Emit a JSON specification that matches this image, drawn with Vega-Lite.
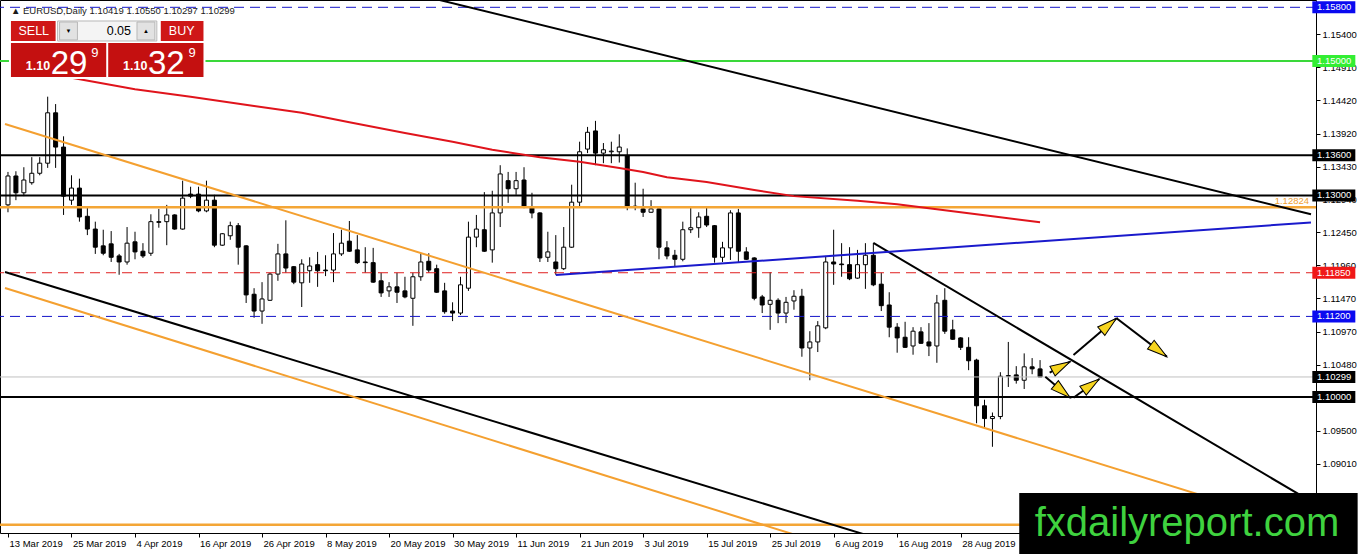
{
  "$schema": "https://vega.github.io/schema/vega-lite/v6.json",
  "width": 1316,
  "height": 533,
  "autosize": "none",
  "padding": {"left": 0, "top": 0, "right": 46, "bottom": 21},
  "background": "white",
  "config": {
    "view": {"stroke": "#000000", "strokeWidth": 1},
    "axis": {"labelFont": "Liberation Sans", "labelFontSize": 9.5, "labelColor": "#000000", "tickColor": "#000000", "tickSize": 4, "domain": false, "grid": false},
    "text": {"font": "Liberation Sans"}
  },
  "resolve": {"axis": {"x": "independent", "y": "independent"}},
  "datasets": {
    "candles": [
      {"i":0,"o":1.1286,"h":1.1335,"l":1.1275,"c":1.1329},
      {"i":1,"o":1.1329,"h":1.1336,"l":1.1293,"c":1.1304},
      {"i":2,"o":1.1304,"h":1.1342,"l":1.1299,"c":1.1323},
      {"i":3,"o":1.1319,"h":1.1357,"l":1.1316,"c":1.1333},
      {"i":4,"o":1.1333,"h":1.1357,"l":1.1330,"c":1.1348},
      {"i":5,"o":1.1348,"h":1.1447,"l":1.1341,"c":1.1423},
      {"i":6,"o":1.1423,"h":1.1436,"l":1.1341,"c":1.1372},
      {"i":7,"o":1.1372,"h":1.1388,"l":1.1271,"c":1.1299},
      {"i":8,"o":1.1293,"h":1.1330,"l":1.1286,"c":1.1311},
      {"i":9,"o":1.1311,"h":1.1325,"l":1.1261,"c":1.1268},
      {"i":10,"o":1.1269,"h":1.1283,"l":1.1241,"c":1.1250},
      {"i":11,"o":1.1250,"h":1.1261,"l":1.1213,"c":1.1223},
      {"i":12,"o":1.1225,"h":1.1249,"l":1.1211,"c":1.1214},
      {"i":13,"o":1.1228,"h":1.1247,"l":1.1201,"c":1.1208},
      {"i":14,"o":1.1210,"h":1.1213,"l":1.1182,"c":1.1201},
      {"i":15,"o":1.1201,"h":1.1253,"l":1.1197,"c":1.1229},
      {"i":16,"o":1.1231,"h":1.1246,"l":1.1205,"c":1.1216},
      {"i":17,"o":1.1217,"h":1.1229,"l":1.1207,"c":1.1210},
      {"i":18,"o":1.1214,"h":1.1272,"l":1.1210,"c":1.1261},
      {"i":19,"o":1.1261,"h":1.1280,"l":1.1252,"c":1.1260},
      {"i":20,"o":1.1261,"h":1.1286,"l":1.1226,"c":1.1271},
      {"i":21,"o":1.1271,"h":1.1272,"l":1.1249,"c":1.1250},
      {"i":22,"o":1.1250,"h":1.1322,"l":1.1249,"c":1.1296},
      {"i":23,"o":1.1302,"h":1.1313,"l":1.1296,"c":1.1299},
      {"i":24,"o":1.1302,"h":1.1313,"l":1.1275,"c":1.1277},
      {"i":25,"o":1.1277,"h":1.1322,"l":1.1275,"c":1.1293},
      {"i":26,"o":1.1293,"h":1.1301,"l":1.1223,"c":1.1226},
      {"i":27,"o":1.1226,"h":1.1244,"l":1.1225,"c":1.1243},
      {"i":28,"o":1.1240,"h":1.1261,"l":1.1234,"c":1.1255},
      {"i":29,"o":1.1255,"h":1.1259,"l":1.1197,"c":1.1223},
      {"i":30,"o":1.1225,"h":1.1226,"l":1.1140,"c":1.1152},
      {"i":31,"o":1.1153,"h":1.1162,"l":1.1118,"c":1.1128},
      {"i":32,"o":1.1128,"h":1.1171,"l":1.1109,"c":1.1146},
      {"i":33,"o":1.1144,"h":1.1185,"l":1.1143,"c":1.1183},
      {"i":34,"o":1.1183,"h":1.1228,"l":1.1173,"c":1.1213},
      {"i":35,"o":1.1213,"h":1.1263,"l":1.1185,"c":1.1192},
      {"i":36,"o":1.1194,"h":1.1195,"l":1.1168,"c":1.1171},
      {"i":37,"o":1.1170,"h":1.1205,"l":1.1134,"c":1.1198},
      {"i":38,"o":1.1188,"h":1.1208,"l":1.1170,"c":1.1195},
      {"i":39,"o":1.1197,"h":1.1216,"l":1.1164,"c":1.1188},
      {"i":40,"o":1.1189,"h":1.1211,"l":1.1180,"c":1.1188},
      {"i":41,"o":1.1189,"h":1.1244,"l":1.1171,"c":1.1213},
      {"i":42,"o":1.1213,"h":1.1249,"l":1.1210,"c":1.1229},
      {"i":43,"o":1.1232,"h":1.1262,"l":1.1216,"c":1.1217},
      {"i":44,"o":1.1219,"h":1.1241,"l":1.1198,"c":1.1200},
      {"i":45,"o":1.1201,"h":1.1223,"l":1.1185,"c":1.1200},
      {"i":46,"o":1.1200,"h":1.1222,"l":1.1170,"c":1.1171},
      {"i":47,"o":1.1173,"h":1.1185,"l":1.1149,"c":1.1155},
      {"i":48,"o":1.1158,"h":1.1171,"l":1.1149,"c":1.1164},
      {"i":49,"o":1.1164,"h":1.1185,"l":1.1140,"c":1.1156},
      {"i":50,"o":1.1158,"h":1.1179,"l":1.1147,"c":1.1149},
      {"i":51,"o":1.1147,"h":1.1185,"l":1.1106,"c":1.1179},
      {"i":52,"o":1.1179,"h":1.1214,"l":1.1173,"c":1.1201},
      {"i":53,"o":1.1202,"h":1.1214,"l":1.1185,"c":1.1189},
      {"i":54,"o":1.1191,"h":1.1197,"l":1.1155,"c":1.1156},
      {"i":55,"o":1.1158,"h":1.1170,"l":1.1124,"c":1.1127},
      {"i":56,"o":1.1128,"h":1.1141,"l":1.1113,"c":1.1125},
      {"i":57,"o":1.1125,"h":1.1179,"l":1.1122,"c":1.1167},
      {"i":58,"o":1.1162,"h":1.1261,"l":1.1158,"c":1.1238},
      {"i":59,"o":1.1238,"h":1.1271,"l":1.1223,"c":1.1250},
      {"i":60,"o":1.1249,"h":1.1305,"l":1.1216,"c":1.1217},
      {"i":61,"o":1.1219,"h":1.1307,"l":1.1200,"c":1.1274},
      {"i":62,"o":1.1274,"h":1.1345,"l":1.1253,"c":1.1332},
      {"i":63,"o":1.1322,"h":1.1335,"l":1.1289,"c":1.1310},
      {"i":64,"o":1.1310,"h":1.1335,"l":1.1301,"c":1.1322},
      {"i":65,"o":1.1323,"h":1.1342,"l":1.1281,"c":1.1283},
      {"i":66,"o":1.1283,"h":1.1304,"l":1.1266,"c":1.1274},
      {"i":67,"o":1.1274,"h":1.1275,"l":1.1201,"c":1.1207},
      {"i":68,"o":1.1208,"h":1.1246,"l":1.1201,"c":1.1216},
      {"i":69,"o":1.1201,"h":1.1241,"l":1.1182,"c":1.1191},
      {"i":70,"o":1.1191,"h":1.1253,"l":1.1189,"c":1.1223},
      {"i":71,"o":1.1223,"h":1.1316,"l":1.1222,"c":1.1290},
      {"i":72,"o":1.1290,"h":1.1380,"l":1.1283,"c":1.1365},
      {"i":73,"o":1.1369,"h":1.1402,"l":1.1363,"c":1.1394},
      {"i":74,"o":1.1396,"h":1.1411,"l":1.1345,"c":1.1363},
      {"i":75,"o":1.1363,"h":1.1378,"l":1.1348,"c":1.1368},
      {"i":76,"o":1.1365,"h":1.1380,"l":1.1348,"c":1.1366},
      {"i":77,"o":1.1365,"h":1.1391,"l":1.1349,"c":1.1372},
      {"i":78,"o":1.1359,"h":1.1370,"l":1.1278,"c":1.1283},
      {"i":79,"o":1.1283,"h":1.1319,"l":1.1278,"c":1.1284},
      {"i":80,"o":1.1280,"h":1.1310,"l":1.1268,"c":1.1275},
      {"i":81,"o":1.1275,"h":1.1293,"l":1.1274,"c":1.1280},
      {"i":82,"o":1.1280,"h":1.1281,"l":1.1205,"c":1.1223},
      {"i":83,"o":1.1222,"h":1.1232,"l":1.1205,"c":1.1210},
      {"i":84,"o":1.1211,"h":1.1219,"l":1.1194,"c":1.1205},
      {"i":85,"o":1.1205,"h":1.1261,"l":1.1202,"c":1.1249},
      {"i":86,"o":1.1249,"h":1.1283,"l":1.1244,"c":1.1252},
      {"i":87,"o":1.1252,"h":1.1275,"l":1.1237,"c":1.1268},
      {"i":88,"o":1.1269,"h":1.1283,"l":1.1253,"c":1.1256},
      {"i":89,"o":1.1255,"h":1.1256,"l":1.1200,"c":1.1208},
      {"i":90,"o":1.1208,"h":1.1231,"l":1.1201,"c":1.1222},
      {"i":91,"o":1.1222,"h":1.1278,"l":1.1204,"c":1.1274},
      {"i":92,"o":1.1274,"h":1.1280,"l":1.1201,"c":1.1217},
      {"i":93,"o":1.1216,"h":1.1223,"l":1.1204,"c":1.1205},
      {"i":94,"o":1.1207,"h":1.1208,"l":1.1144,"c":1.1147},
      {"i":95,"o":1.1149,"h":1.1152,"l":1.1125,"c":1.1137},
      {"i":96,"o":1.1138,"h":1.1186,"l":1.1100,"c":1.1144},
      {"i":97,"o":1.1144,"h":1.1147,"l":1.1110,"c":1.1125},
      {"i":98,"o":1.1125,"h":1.1149,"l":1.1110,"c":1.1141},
      {"i":99,"o":1.1143,"h":1.1159,"l":1.1130,"c":1.1150},
      {"i":100,"o":1.1150,"h":1.1161,"l":1.1060,"c":1.1073},
      {"i":101,"o":1.1073,"h":1.1098,"l":1.1025,"c":1.1082},
      {"i":102,"o":1.1082,"h":1.1113,"l":1.1067,"c":1.1106},
      {"i":103,"o":1.1103,"h":1.1210,"l":1.1101,"c":1.1201},
      {"i":104,"o":1.1201,"h":1.1249,"l":1.1167,"c":1.1198},
      {"i":105,"o":1.1198,"h":1.1229,"l":1.1179,"c":1.1197},
      {"i":106,"o":1.1197,"h":1.1223,"l":1.1174,"c":1.1176},
      {"i":107,"o":1.1177,"h":1.1219,"l":1.1176,"c":1.1197},
      {"i":108,"o":1.1197,"h":1.1229,"l":1.1161,"c":1.1211},
      {"i":109,"o":1.1211,"h":1.1229,"l":1.1165,"c":1.1167},
      {"i":110,"o":1.1168,"h":1.1185,"l":1.1128,"c":1.1136},
      {"i":111,"o":1.1137,"h":1.1156,"l":1.1089,"c":1.1104},
      {"i":112,"o":1.1104,"h":1.1110,"l":1.1066,"c":1.1088},
      {"i":113,"o":1.1089,"h":1.1112,"l":1.1073,"c":1.1074},
      {"i":114,"o":1.1076,"h":1.1104,"l":1.1063,"c":1.1098},
      {"i":115,"o":1.1097,"h":1.1104,"l":1.1079,"c":1.1080},
      {"i":116,"o":1.1082,"h":1.1110,"l":1.1061,"c":1.1076},
      {"i":117,"o":1.1076,"h":1.1152,"l":1.1051,"c":1.1140},
      {"i":118,"o":1.1144,"h":1.1162,"l":1.1094,"c":1.1098},
      {"i":119,"o":1.1100,"h":1.1115,"l":1.1085,"c":1.1086},
      {"i":120,"o":1.1088,"h":1.1089,"l":1.1070,"c":1.1074},
      {"i":121,"o":1.1074,"h":1.1089,"l":1.1040,"c":1.1054},
      {"i":122,"o":1.1055,"h":1.1057,"l":1.0961,"c":1.0987},
      {"i":123,"o":1.0987,"h":1.0996,"l":1.0954,"c":1.0968},
      {"i":124,"o":1.0968,"h":1.0977,"l":1.0926,"c":1.0971},
      {"i":125,"o":1.0971,"h":1.1037,"l":1.0967,"c":1.1031},
      {"i":126,"o":1.1031,"h":1.1082,"l":1.1015,"c":1.1032},
      {"i":127,"o":1.1033,"h":1.1046,"l":1.1020,"c":1.1025},
      {"i":128,"o":1.1025,"h":1.1065,"l":1.1012,"c":1.1045},
      {"i":129,"o":1.1045,"h":1.1058,"l":1.1034,"c":1.1042},
      {"i":130,"o":1.10419,"h":1.10550,"l":1.10297,"c":1.10299}
    ],
    "ma": [
      {"i":7,"v":1.1476},{"i":8,"v":1.1475},{"i":16,"v":1.1458},{"i":23,"v":1.1447},
      {"i":31,"v":1.1433},{"i":37,"v":1.1423},{"i":43,"v":1.1409},{"i":50,"v":1.1393},
      {"i":56,"v":1.1380},{"i":61,"v":1.1368},{"i":67,"v":1.1357},{"i":72,"v":1.1350},
      {"i":77,"v":1.1341},{"i":80,"v":1.1335},{"i":83,"v":1.1327},{"i":88,"v":1.1320},
      {"i":94,"v":1.1308},{"i":99,"v":1.1299},{"i":107,"v":1.1292},{"i":112,"v":1.1287},
      {"i":118,"v":1.1278},{"i":124,"v":1.1269},{"i":130,"v":1.1260}
    ],
    "trendBlack": [
      {"line":"top","i":54.375,"p":1.15908},{"line":"top","i":164.125,"p":1.12720},
      {"line":"channel","i":-0.375,"p":1.11861},{"line":"channel","i":108.375,"p":1.07938},
      {"line":"down","i":109,"p":1.12293},{"line":"down","i":164.125,"p":1.08446}
    ],
    "trendOrange": [
      {"line":"upper","i":-0.375,"p":1.14063},{"line":"upper","i":164.125,"p":1.08032},
      {"line":"lower","i":-0.375,"p":1.11623},{"line":"lower","i":99.625,"p":1.07932}
    ],
    "trendBlue": [{"i":69,"p":1.11816},{"i":164.125,"p":1.12598}],
    "arrows": [
      {"a":1,"i":131.21,"p":1.10362},{"a":1,"i":133.79,"p":1.10526},
      {"a":2,"i":130.66,"p":1.10303},{"a":2,"i":133.79,"p":1.09990},
      {"a":3,"i":134.21,"p":1.09990},{"a":3,"i":137.46,"p":1.10269},
      {"a":4,"i":134.21,"p":1.10626},{"a":4,"i":139.63,"p":1.11172},
      {"a":5,"i":139.63,"p":1.11172},{"a":5,"i":145.96,"p":1.10601}
    ],
    "lvBlack": [{"p":1.136},{"p":1.13},{"p":1.1}],
    "lvBlue": [{"p":1.158},{"p":1.112}],
    "lvGreen": [{"p":1.15}],
    "lvRed": [{"p":1.1185}],
    "lvOrange": [{"p":1.12824},{"p":1.081}],
    "lvBid": [{"p":1.10299}]
  },
  "layer": [
    {
      "data": {"name": "candles"},
      "mark": {"type": "rule", "color": "#000000", "strokeWidth": 1},
      "encoding": {
        "x": {
          "field": "i", "type": "quantitative",
          "scale": {"domain": [-0.375, 164.125], "nice": false, "zero": false},
          "axis": {
            "orient": "bottom", "title": null,
            "values": [0, 8, 16, 24, 32, 40, 48, 56, 64, 72, 80, 88, 96, 104, 112, 120],
            "labelExpr": "['13 Mar 2019','25 Mar 2019','4 Apr 2019','16 Apr 2019','26 Apr 2019','8 May 2019','20 May 2019','30 May 2019','11 Jun 2019','21 Jun 2019','3 Jul 2019','15 Jul 2019','25 Jul 2019','6 Aug 2019','16 Aug 2019','28 Aug 2019'][round(datum.value / 8)]",
            "labelAlign": "left", "labelBaseline": "top", "labelPadding": 1, "labelOffset": 1,
            "labelOverlap": false, "labelFlush": false, "labelBound": false
          }
        },
        "y": {
          "field": "l", "type": "quantitative",
          "scale": {"domain": [1.07977, 1.159086], "nice": false, "zero": false},
          "axis": {
            "orient": "right", "title": null, "format": ".5f",
            "values": [1.154, 1.1491, 1.1442, 1.1392, 1.1343, 1.1294, 1.1245, 1.1196, 1.1147, 1.1097, 1.1048, 1.095, 1.0901],
            "labelAlign": "left", "labelBaseline": "middle", "labelPadding": 2,
            "labelOverlap": false, "labelFlush": false
          }
        },
        "y2": {"field": "h"}
      }
    },
    {
      "data": {"name": "candles"},
      "mark": {"type": "bar", "width": 4, "stroke": "#000000", "strokeWidth": 1},
      "encoding": {
        "x": {"field": "i", "type": "quantitative", "axis": null},
        "y": {"field": "o", "type": "quantitative", "axis": null},
        "y2": {"field": "c"},
        "fill": {"condition": {"test": "datum.c > datum.o", "value": "#ffffff"}, "value": "#000000"}
      }
    },
    {
      "data": {"name": "lvBid"},
      "mark": {"type": "rule", "color": "#c0c0c0", "strokeWidth": 1},
      "encoding": {"y": {"field": "p", "type": "quantitative", "axis": null}}
    },
    {
      "data": {"name": "lvBlack"},
      "mark": {"type": "rule", "color": "#000000", "strokeWidth": 2},
      "encoding": {"y": {"field": "p", "type": "quantitative", "axis": null}}
    },
    {
      "data": {"name": "lvBlue"},
      "mark": {"type": "rule", "color": "#1414c8", "strokeWidth": 1, "strokeDash": [10, 6]},
      "encoding": {"y": {"field": "p", "type": "quantitative", "axis": null}}
    },
    {
      "data": {"name": "lvGreen"},
      "mark": {"type": "rule", "color": "#3ad83a", "strokeWidth": 2},
      "encoding": {"y": {"field": "p", "type": "quantitative", "axis": null}}
    },
    {
      "data": {"name": "lvRed"},
      "mark": {"type": "rule", "color": "#e02020", "strokeWidth": 1, "strokeDash": [10, 6]},
      "encoding": {"y": {"field": "p", "type": "quantitative", "axis": null}}
    },
    {
      "data": {"name": "lvOrange"},
      "mark": {"type": "rule", "color": "#f4a636", "strokeWidth": 2.5},
      "encoding": {"y": {"field": "p", "type": "quantitative", "axis": null}}
    },
    {
      "data": {"name": "ma"},
      "mark": {"type": "line", "color": "#e0141c", "strokeWidth": 2},
      "encoding": {
        "x": {"field": "i", "type": "quantitative", "axis": null},
        "y": {"field": "v", "type": "quantitative", "axis": null}
      }
    },
    {
      "data": {"name": "trendOrange"},
      "mark": {"type": "line", "color": "#f4a030", "strokeWidth": 2, "clip": true},
      "encoding": {
        "x": {"field": "i", "type": "quantitative", "axis": null},
        "y": {"field": "p", "type": "quantitative", "axis": null},
        "detail": {"field": "line"}
      }
    },
    {
      "data": {"name": "trendBlack"},
      "mark": {"type": "line", "color": "#000000", "strokeWidth": 2, "clip": true},
      "encoding": {
        "x": {"field": "i", "type": "quantitative", "axis": null},
        "y": {"field": "p", "type": "quantitative", "axis": null},
        "detail": {"field": "line"}
      }
    },
    {
      "data": {"name": "trendBlue"},
      "mark": {"type": "line", "color": "#1a1acc", "strokeWidth": 2, "clip": true},
      "encoding": {
        "x": {"field": "i", "type": "quantitative", "axis": null},
        "y": {"field": "p", "type": "quantitative", "axis": null}
      }
    },
    {
      "data": {"name": "arrows"},
      "mark": {"type": "line", "color": "#000000", "strokeWidth": 2},
      "encoding": {
        "x": {"field": "i", "type": "quantitative", "axis": null},
        "y": {"field": "p", "type": "quantitative", "axis": null},
        "detail": {"field": "a"}
      }
    },
    {
      "data": {"values": [{}]},
      "mark": {"type": "point", "shape": "M0,0L0.55,2L-0.55,2Z", "size": 400, "filled": true, "fill": "#f6d41e", "stroke": "#000000", "strokeWidth": 1, "opacity": 1, "angle": 61.9},
      "encoding": {"x": {"datum": 133.79, "axis": null}, "y": {"datum": 1.10526, "axis": null}}
    },
    {
      "data": {"values": [{}]},
      "mark": {"type": "point", "shape": "M0,0L0.55,2L-0.55,2Z", "size": 400, "filled": true, "fill": "#f6d41e", "stroke": "#000000", "strokeWidth": 1, "opacity": 1, "angle": 130},
      "encoding": {"x": {"datum": 133.79, "axis": null}, "y": {"datum": 1.0999, "axis": null}}
    },
    {
      "data": {"values": [{}]},
      "mark": {"type": "point", "shape": "M0,0L0.55,2L-0.55,2Z", "size": 400, "filled": true, "fill": "#f6d41e", "stroke": "#000000", "strokeWidth": 1, "opacity": 1, "angle": 54.3},
      "encoding": {"x": {"datum": 137.46, "axis": null}, "y": {"datum": 1.10269, "axis": null}}
    },
    {
      "data": {"values": [{}]},
      "mark": {"type": "point", "shape": "M0,0L0.55,2L-0.55,2Z", "size": 400, "filled": true, "fill": "#f6d41e", "stroke": "#000000", "strokeWidth": 1, "opacity": 1, "angle": 49.7},
      "encoding": {"x": {"datum": 139.63, "axis": null}, "y": {"datum": 1.11172, "axis": null}}
    },
    {
      "data": {"values": [{}]},
      "mark": {"type": "point", "shape": "M0,0L0.55,2L-0.55,2Z", "size": 400, "filled": true, "fill": "#f6d41e", "stroke": "#000000", "strokeWidth": 1, "opacity": 1, "angle": 127.1},
      "encoding": {"x": {"datum": 145.96, "axis": null}, "y": {"datum": 1.10601, "axis": null}}
    },
    {
      "data": {"values": [{}]},
      "layer": [
        {"mark": {"type": "rect", "color": "#ffffff"},
         "encoding": {"x": {"datum": 0.125, "axis": null}, "x2": {"datum": 24.875}, "y": {"datum": 1.156407, "axis": null}, "y2": {"datum": 1.14733}}},
        {"mark": {"type": "rect", "color": "#cf1717"},
         "encoding": {"x": {"datum": 0.375, "axis": null}, "x2": {"datum": 6.0}, "y": {"datum": 1.155961, "axis": null}, "y2": {"datum": 1.152985}}},
        {"mark": {"type": "rect", "fill": "#f4f4f4", "stroke": "#b8b8b8", "strokeWidth": 1},
         "encoding": {"x": {"datum": 6.25, "axis": null}, "x2": {"datum": 18.75}, "y": {"datum": 1.155961, "axis": null}, "y2": {"datum": 1.152985}}},
        {"mark": {"type": "rect", "fill": "#e2e2e2", "stroke": "#b8b8b8", "strokeWidth": 1},
         "encoding": {"x": {"datum": 6.5, "axis": null}, "x2": {"datum": 8.75}, "y": {"datum": 1.15581, "axis": null}, "y2": {"datum": 1.15314}}},
        {"mark": {"type": "rect", "fill": "#e2e2e2", "stroke": "#b8b8b8", "strokeWidth": 1},
         "encoding": {"x": {"datum": 16.25, "axis": null}, "x2": {"datum": 18.5}, "y": {"datum": 1.15581, "axis": null}, "y2": {"datum": 1.15314}}},
        {"mark": {"type": "rect", "color": "#cf1717"},
         "encoding": {"x": {"datum": 19.25, "axis": null}, "x2": {"datum": 24.625}, "y": {"datum": 1.155961, "axis": null}, "y2": {"datum": 1.152985}}},
        {"mark": {"type": "rect", "color": "#c41010"},
         "encoding": {"x": {"datum": 0.375, "axis": null}, "x2": {"datum": 12.375}, "y": {"datum": 1.152687, "axis": null}, "y2": {"datum": 1.147628}}},
        {"mark": {"type": "rect", "color": "#c41010"},
         "encoding": {"x": {"datum": 12.625, "axis": null}, "x2": {"datum": 24.625}, "y": {"datum": 1.152687, "axis": null}, "y2": {"datum": 1.147628}}},
        {"mark": {"type": "text", "text": "SELL", "fontSize": 12.5, "color": "#ffffff", "align": "center", "baseline": "middle"},
         "encoding": {"x": {"datum": 3.25, "axis": null}, "y": {"datum": 1.154473, "axis": null}}},
        {"mark": {"type": "text", "text": "BUY", "fontSize": 12.5, "color": "#ffffff", "align": "center", "baseline": "middle"},
         "encoding": {"x": {"datum": 21.875, "axis": null}, "y": {"datum": 1.154473, "axis": null}}},
        {"mark": {"type": "text", "text": "0.05", "fontSize": 12.5, "color": "#000000", "align": "right", "baseline": "middle"},
         "encoding": {"x": {"datum": 15.5, "axis": null}, "y": {"datum": 1.154473, "axis": null}}},
        {"mark": {"type": "text", "text": "▼", "fontSize": 6, "color": "#000000", "align": "center", "baseline": "middle"},
         "encoding": {"x": {"datum": 7.625, "axis": null}, "y": {"datum": 1.154473, "axis": null}}},
        {"mark": {"type": "text", "text": "▲", "fontSize": 6, "color": "#000000", "align": "center", "baseline": "middle"},
         "encoding": {"x": {"datum": 17.375, "axis": null}, "y": {"datum": 1.154473, "axis": null}}},
        {"mark": {"type": "text", "text": "1.10", "fontSize": 12.5, "fontWeight": "bold", "color": "#ffffff", "align": "left", "baseline": "alphabetic"},
         "encoding": {"x": {"datum": 2.25, "axis": null}, "y": {"datum": 1.148669, "axis": null}}},
        {"mark": {"type": "text", "text": "29", "fontSize": 33, "color": "#ffffff", "align": "left", "baseline": "alphabetic"},
         "encoding": {"x": {"datum": 5.375, "axis": null}, "y": {"datum": 1.148074, "axis": null}}},
        {"mark": {"type": "text", "text": "9", "fontSize": 13, "color": "#ffffff", "align": "left", "baseline": "alphabetic"},
         "encoding": {"x": {"datum": 10.5, "axis": null}, "y": {"datum": 1.150604, "axis": null}}},
        {"mark": {"type": "text", "text": "1.10", "fontSize": 12.5, "fontWeight": "bold", "color": "#ffffff", "align": "left", "baseline": "alphabetic"},
         "encoding": {"x": {"datum": 14.5, "axis": null}, "y": {"datum": 1.148669, "axis": null}}},
        {"mark": {"type": "text", "text": "32", "fontSize": 33, "color": "#ffffff", "align": "left", "baseline": "alphabetic"},
         "encoding": {"x": {"datum": 17.625, "axis": null}, "y": {"datum": 1.148074, "axis": null}}},
        {"mark": {"type": "text", "text": "9", "fontSize": 13, "color": "#ffffff", "align": "left", "baseline": "alphabetic"},
         "encoding": {"x": {"datum": 22.75, "axis": null}, "y": {"datum": 1.150604, "axis": null}}}
      ]
    },
    {
      "data": {"values": [{}]},
      "mark": {"type": "text", "text": "▲ EURUSD,Daily  1.10419 1.10550 1.10297 1.10299", "fontSize": 9.5, "color": "#1a1a1a", "align": "left", "baseline": "middle"},
      "encoding": {"x": {"datum": 0.375, "axis": null}, "y": {"datum": 1.15745, "axis": null}}
    },
    {
      "data": {"values": [{}]},
      "mark": {"type": "text", "text": "1.12824", "fontSize": 9.5, "color": "#f0a030", "align": "right", "baseline": "middle", "dy": -6},
      "encoding": {"x": {"datum": 163.875, "axis": null}, "y": {"datum": 1.12824, "axis": null}}
    },
    {
      "data": {"values": [{}]},
      "layer": [
        {"mark": {"type": "rect", "color": "#000000"},
         "encoding": {"x": {"datum": 127.375, "axis": null}, "x2": {"datum": 170}, "y": {"datum": 1.085723, "axis": null}, "y2": {"datum": 1.07635}}},
        {"mark": {"type": "text", "text": "fxdailyreport.com", "fontSize": 40, "color": "#3fd23f", "align": "center", "baseline": "alphabetic"},
         "encoding": {"x": {"datum": 148.5, "axis": null}, "y": {"datum": 1.079324, "axis": null}}}
      ]
    },
    {
      "data": {"name": "lvBlack"},
      "encoding": {"y": {"field": "p", "type": "quantitative", "axis": null}},
      "layer": [
        {"mark": {"type": "tick", "orient": "horizontal", "size": 43, "thickness": 12, "color": "#000000", "opacity": 1},
         "encoding": {"x": {"datum": 167.0, "axis": null}}},
        {"mark": {"type": "text", "align": "left", "baseline": "middle", "fontSize": 9.5, "color": "#ffffff"},
         "encoding": {"x": {"datum": 164.875, "axis": null}, "text": {"field": "p", "format": ".5f"}}}
      ]
    },
    {
      "data": {"name": "lvBid"},
      "encoding": {"y": {"field": "p", "type": "quantitative", "axis": null}},
      "layer": [
        {"mark": {"type": "tick", "orient": "horizontal", "size": 43, "thickness": 12, "color": "#000000", "opacity": 1},
         "encoding": {"x": {"datum": 167.0, "axis": null}}},
        {"mark": {"type": "text", "align": "left", "baseline": "middle", "fontSize": 9.5, "color": "#ffffff"},
         "encoding": {"x": {"datum": 164.875, "axis": null}, "text": {"field": "p", "format": ".5f"}}}
      ]
    },
    {
      "data": {"name": "lvBlue"},
      "encoding": {"y": {"field": "p", "type": "quantitative", "axis": null}},
      "layer": [
        {"mark": {"type": "tick", "orient": "horizontal", "size": 43, "thickness": 12, "color": "#0a0af0", "opacity": 1},
         "encoding": {"x": {"datum": 167.0, "axis": null}}},
        {"mark": {"type": "text", "align": "left", "baseline": "middle", "fontSize": 9.5, "color": "#ffffff"},
         "encoding": {"x": {"datum": 164.875, "axis": null}, "text": {"field": "p", "format": ".5f"}}}
      ]
    },
    {
      "data": {"name": "lvGreen"},
      "encoding": {"y": {"field": "p", "type": "quantitative", "axis": null}},
      "layer": [
        {"mark": {"type": "tick", "orient": "horizontal", "size": 43, "thickness": 12, "color": "#33ee33", "opacity": 1},
         "encoding": {"x": {"datum": 167.0, "axis": null}}},
        {"mark": {"type": "text", "align": "left", "baseline": "middle", "fontSize": 9.5, "color": "#ffffff"},
         "encoding": {"x": {"datum": 164.875, "axis": null}, "text": {"field": "p", "format": ".5f"}}}
      ]
    },
    {
      "data": {"name": "lvRed"},
      "encoding": {"y": {"field": "p", "type": "quantitative", "axis": null}},
      "layer": [
        {"mark": {"type": "tick", "orient": "horizontal", "size": 43, "thickness": 12, "color": "#f01818", "opacity": 1},
         "encoding": {"x": {"datum": 167.0, "axis": null}}},
        {"mark": {"type": "text", "align": "left", "baseline": "middle", "fontSize": 9.5, "color": "#ffffff"},
         "encoding": {"x": {"datum": 164.875, "axis": null}, "text": {"field": "p", "format": ".5f"}}}
      ]
    }
  ]
}
